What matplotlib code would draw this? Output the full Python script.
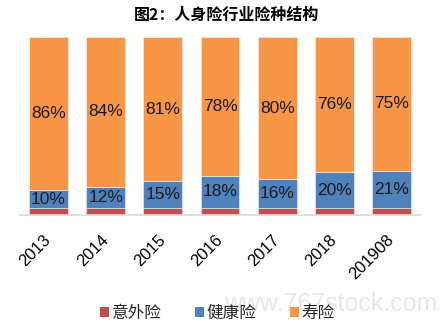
import matplotlib
matplotlib.use("Agg")
import matplotlib.pyplot as plt
import numpy as np
from matplotlib.patches import Patch

plt.rcParams['font.family'] = ['Liberation Sans', 'Noto Sans CJK SC', 'DejaVu Sans']

years = ["2013", "2014", "2015", "2016", "2017", "2018", "201908"]
accident = [4, 4, 4, 4, 4, 4, 4]
health = [10, 12, 15, 18, 16, 20, 21]
life = [86, 84, 81, 78, 80, 76, 75]
series_names = ["意外险", "健康险", "寿险"]
colors = ["#C0504D", "#4F81BD", "#F79646"]

fig = plt.figure(figsize=(4.44, 3.36), dpi=100)
ax = fig.add_axes([0.045, 0.36, 0.901, 0.53])

x = np.arange(len(years))
w = 0.68
bottom = np.zeros(len(years))
for vals, c in zip([accident, health, life], colors):
    ax.bar(x, vals, w, bottom=bottom, color=c, edgecolor="#F2F2F2", linewidth=0.4)
    bottom += np.array(vals)

# value labels for health and life segments
for i in range(len(years)):
    hb = accident[i]
    ax.text(x[i], hb + health[i] / 2, f"{health[i]}%", ha="center", va="center",
            fontsize=12.5, color="#1a1a1a")
    lb = accident[i] + health[i]
    ax.text(x[i], lb + life[i] / 2, f"{life[i]}%", ha="center", va="center",
            fontsize=12.5, color="#1a1a1a")

ax.set_xlim(-0.5, 6.5)
ax.set_ylim(0, 100)
ax.set_yticks([])
for s in ["top", "right", "left"]:
    ax.spines[s].set_visible(False)
ax.spines["bottom"].set_color("#D9D9D9")
ax.spines["bottom"].set_linewidth(1.2)
ax.set_xticks(x)
ax.set_xticklabels(years, rotation=45, ha="right", va="center",
                   rotation_mode="anchor", fontsize=12)
ax.tick_params(axis="x", length=0, pad=16)

fig.text(0.51, 0.955, "图2：人身险行业险种结构", ha="center", va="center",
         fontsize=11.5, fontweight="bold", family=["Noto Sans CJK SC", "DejaVu Sans"])

fig.text(0.745, 0.094, "www.767stock.com", ha="center", va="center", fontsize=18,
         color="#B0B0B0", alpha=0.3)

handles = [Patch(facecolor=c) for c in colors]
leg = fig.legend(handles, series_names, loc="center", bbox_to_anchor=(0.49, 0.068), ncol=3,
                 frameon=False, handlelength=0.55, handleheight=0.55, handletextpad=0.15,
                 columnspacing=2.0, prop={"family": ["Noto Sans CJK SC"], "size": 12})
for t in leg.get_texts():
    t.set_color("#262626")

fig.savefig("out.png", dpi=100)
